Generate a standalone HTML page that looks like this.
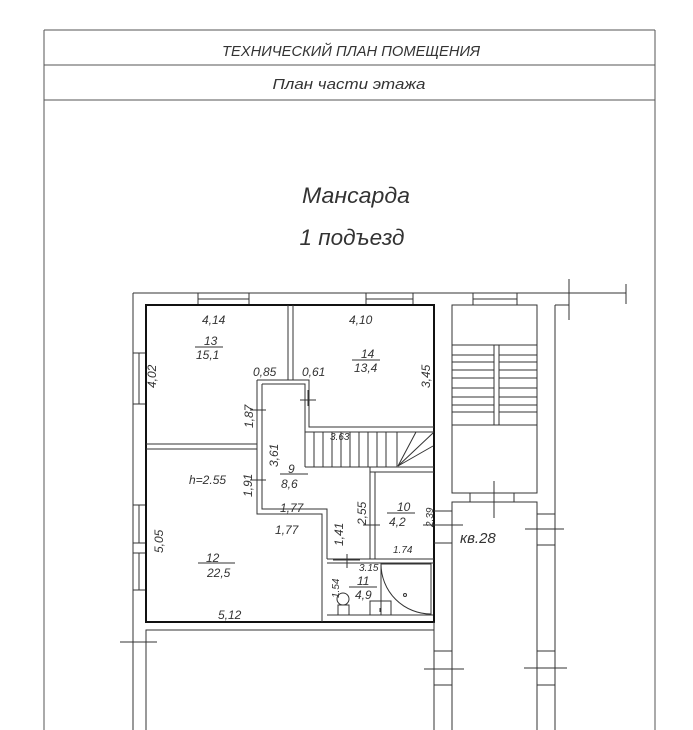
<!DOCTYPE html>
<html><head><meta charset="utf-8"><style>
html,body{margin:0;padding:0;background:#fff;}
svg{display:block;}
text{font-family:"Liberation Sans","DejaVu Sans",sans-serif;font-style:italic;fill:#333;}
</style></head><body>
<svg width="693" height="730" viewBox="0 0 693 730" xmlns="http://www.w3.org/2000/svg">
<g stroke="#555" stroke-width="1" fill="none">
<line x1="44" y1="30" x2="655" y2="30"/>
<line x1="44" y1="65" x2="655" y2="65"/>
<line x1="44" y1="100" x2="655" y2="100"/>
<line x1="44" y1="30" x2="44" y2="730"/>
<line x1="655" y1="30" x2="655" y2="730"/>
</g>
<text x="351" y="56" font-size="15" text-anchor="middle" textLength="258" lengthAdjust="spacingAndGlyphs">ТЕХНИЧЕСКИЙ ПЛАН ПОМЕЩЕНИЯ</text>
<text x="349" y="89" font-size="15" text-anchor="middle" textLength="153" lengthAdjust="spacingAndGlyphs">План  части этажа</text>
<text x="356" y="203" font-size="22" text-anchor="middle" fill="#444" textLength="108" lengthAdjust="spacingAndGlyphs">Мансарда</text>
<text x="352" y="245" font-size="22" text-anchor="middle" fill="#444" textLength="105" lengthAdjust="spacingAndGlyphs">1 подъезд</text>

<g stroke="#333" stroke-width="1" fill="none">
<line x1="133" y1="293" x2="626" y2="293"/>
<line x1="133" y1="293" x2="133" y2="730"/>
<line x1="626" y1="284" x2="626" y2="304"/>
<line x1="569" y1="279" x2="569" y2="320"/>
<line x1="555" y1="305" x2="569" y2="305"/>
<line x1="555" y1="305" x2="555" y2="730"/>
<rect x="198" y="293" width="51" height="12"/><line x1="198" y1="299" x2="249" y2="299"/>
<rect x="366" y="293" width="47" height="12"/><line x1="366" y1="299" x2="413" y2="299"/>
<rect x="473" y="293" width="44" height="12"/><line x1="473" y1="299" x2="517" y2="299"/>
<rect x="133" y="353" width="13" height="51"/><line x1="139" y1="353" x2="139" y2="404"/>
<rect x="133" y="505" width="13" height="38"/><line x1="139" y1="505" x2="139" y2="543"/>
<rect x="133" y="553" width="13" height="37"/><line x1="139" y1="553" x2="139" y2="590"/>
</g>
<rect x="146" y="305" width="288" height="317" fill="none" stroke="#111" stroke-width="2"/>
<g stroke="#333" stroke-width="1" fill="none">
<line x1="288" y1="305" x2="288" y2="380"/><line x1="293" y1="305" x2="293" y2="380"/>
<line x1="146" y1="444" x2="257" y2="444"/><line x1="146" y1="449" x2="257" y2="449"/>
<polyline points="257,444 257,514 322,514 322,622"/>
<polyline points="262,384 262,509 327,509 327,559"/>
<line x1="257" y1="380" x2="257" y2="444"/>
<polyline points="257,380 309,380 309,427 434,427"/>
<polyline points="262,384 305,384 305,432 434,432"/>
<line x1="305" y1="467" x2="434" y2="467"/>
<line x1="370" y1="472" x2="434" y2="472"/>
<line x1="370" y1="467" x2="370" y2="559"/><line x1="375" y1="472" x2="375" y2="559"/>
<line x1="305" y1="432" x2="305" y2="467"/>
<line x1="314" y1="432" x2="314" y2="467"/><line x1="323" y1="432" x2="323" y2="467"/>
<line x1="332" y1="432" x2="332" y2="467"/><line x1="341" y1="432" x2="341" y2="467"/>
<line x1="350" y1="432" x2="350" y2="467"/><line x1="359" y1="432" x2="359" y2="467"/>
<line x1="368" y1="432" x2="368" y2="467"/><line x1="377" y1="432" x2="377" y2="467"/>
<line x1="386" y1="432" x2="386" y2="467"/><line x1="397" y1="432" x2="397" y2="467"/>
<line x1="398" y1="466" x2="416" y2="432"/><line x1="398" y1="466" x2="433" y2="433"/><line x1="398" y1="466" x2="433" y2="446"/>
<line x1="327" y1="559" x2="434" y2="559"/><line x1="327" y1="563" x2="434" y2="563"/>
<line x1="327" y1="615" x2="433" y2="615"/>
<rect x="381" y="564" width="50" height="51"/>
<path d="M381,564 A50,50 0 0 0 431,614"/>
<circle cx="405" cy="595" r="1.5"/>
<rect x="370" y="601" width="21" height="14"/><line x1="380" y1="612" x2="380" y2="608"/>
<circle cx="343" cy="599" r="6"/><rect x="338" y="605" width="11" height="10"/>
<line x1="250" y1="410" x2="266" y2="410"/>
<line x1="300" y1="400" x2="316" y2="400"/><line x1="308" y1="390" x2="308" y2="406"/>
<line x1="250" y1="480" x2="266" y2="480"/>
<line x1="363" y1="525" x2="380" y2="525"/>
<line x1="347" y1="554" x2="347" y2="568"/><line x1="333" y1="560" x2="360" y2="560"/>
<polyline points="146,730 146,630 434,630 434,730"/>
<line x1="434" y1="622" x2="434" y2="730"/>
<line x1="120" y1="642" x2="157" y2="642"/>
<rect x="452" y="305" width="85" height="188"/>
<line x1="452" y1="345" x2="537" y2="345"/>
<line x1="452" y1="355" x2="537" y2="355"/><line x1="452" y1="362" x2="537" y2="362"/>
<line x1="452" y1="370" x2="537" y2="370"/><line x1="452" y1="378" x2="537" y2="378"/>
<line x1="452" y1="388" x2="537" y2="388"/><line x1="452" y1="397" x2="537" y2="397"/>
<line x1="452" y1="405" x2="537" y2="405"/><line x1="452" y1="412" x2="537" y2="412"/>
<line x1="452" y1="425" x2="537" y2="425"/>
<rect x="494" y="345" width="5" height="80" fill="#fff"/>
<line x1="470" y1="493" x2="470" y2="502"/><line x1="514" y1="493" x2="514" y2="502"/>
<line x1="494" y1="481" x2="494" y2="518"/>
<polyline points="452,730 452,502 537,502 537,730"/>
<line x1="434" y1="511" x2="452" y2="511"/><line x1="434" y1="543" x2="452" y2="543"/>
<line x1="423" y1="525" x2="463" y2="525"/>
<line x1="537" y1="514" x2="555" y2="514"/><line x1="537" y1="545" x2="555" y2="545"/>
<line x1="525" y1="529" x2="564" y2="529"/>
<line x1="434" y1="651" x2="452" y2="651"/><line x1="434" y1="685" x2="452" y2="685"/>
<line x1="424" y1="669" x2="464" y2="669"/>
<line x1="537" y1="651" x2="555" y2="651"/><line x1="537" y1="685" x2="555" y2="685"/>
<line x1="524" y1="668" x2="567" y2="668"/>
<line x1="195" y1="347" x2="223" y2="347"/>
<line x1="352" y1="360" x2="380" y2="360"/>
<line x1="280" y1="474" x2="308" y2="474"/>
<line x1="387" y1="513" x2="415" y2="513"/>
<line x1="198" y1="563" x2="235" y2="563"/>
<line x1="349" y1="587" x2="377" y2="587"/>
</g>
<g font-size="12">
<text x="202" y="324">4,14</text>
<text x="349" y="324">4,10</text>
<text x="204" y="345">13</text><text x="196" y="359">15,1</text>
<text x="361" y="358">14</text><text x="354" y="372">13,4</text>
<text x="253" y="376">0,85</text>
<text x="302" y="376">0,61</text>
<text x="189" y="484">h=2.55</text>
<text x="288" y="473">9</text><text x="281" y="488">8,6</text>
<text x="280" y="512">1,77</text>
<text x="275" y="534">1,77</text>
<text x="397" y="511">10</text><text x="389" y="526">4,2</text>
<text x="206" y="562">12</text><text x="207" y="577">22,5</text>
<text x="218" y="619">5,12</text>
<text x="357" y="585">11</text><text x="355" y="599">4,9</text>
<text x="460" y="543" font-size="15">кв.28</text>
</g>
<g font-size="10">
<text x="330" y="440">3.63</text>
<text x="393" y="553">1.74</text>
<text x="359" y="571">3.15</text>
</g>
<g font-size="12">
<text transform="translate(156,388) rotate(-90)">4,02</text>
<text transform="translate(430,388) rotate(-90)">3,45</text>
<text transform="translate(253,428) rotate(-90)">1,87</text>
<text transform="translate(278,467) rotate(-90)">3,61</text>
<text transform="translate(252,497) rotate(-90)">1,91</text>
<text transform="translate(163,553) rotate(-90)">5,05</text>
<text transform="translate(343,546) rotate(-90)">1,41</text>
<text transform="translate(366,525) rotate(-90)">2,55</text>
</g>
<g font-size="10">
<text transform="translate(433,527) rotate(-90)">2.39</text>
<text transform="translate(339,598) rotate(-90)">1.54</text>
</g>
</svg>
</body></html>
